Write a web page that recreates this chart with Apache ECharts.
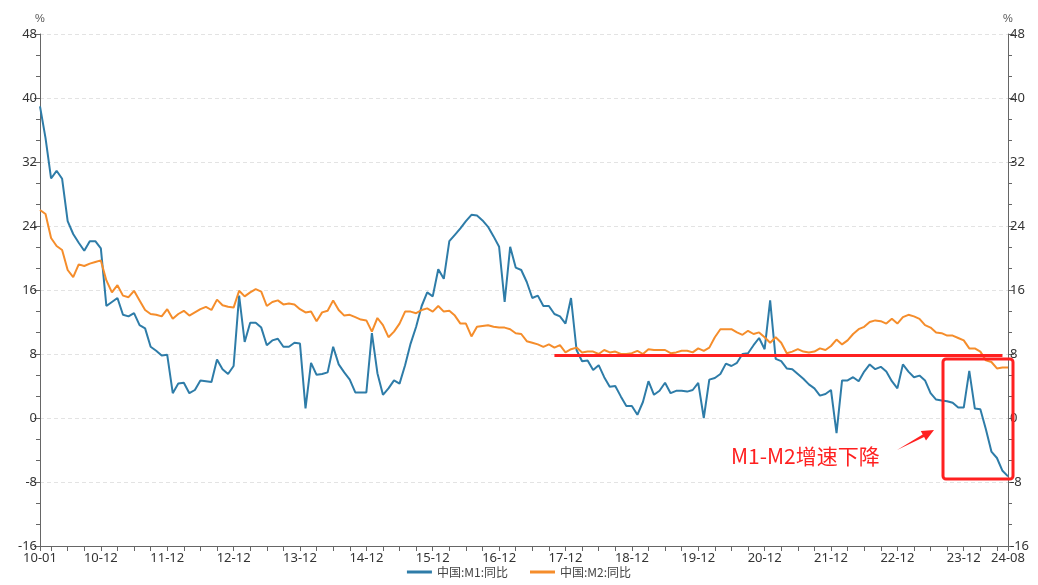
<!DOCTYPE html>
<html>
<head>
<meta charset="utf-8">
<title>M1 M2</title>
<script src="https://cdn.jsdelivr.net/npm/echarts@6/dist/echarts.min.js"></script>
<style>
    html, body { margin: 0; padding: 0; background: #fff; }
    #chart1 { width: 1038px; height: 585px; }
</style>
</head>
<body>
<div id="chart1"></div>
<script>
// 月份 2010-01 ~ 2024-08
var startYear = 2010, endYear = 2024, endMonth = 8;
var months = [];
for (var y = startYear; y <= endYear; y++) {
    for (var m = 1; m <= 12; m++) {
        if (y === endYear && m > endMonth) break;
        months.push(String(y).slice(2) + '-' + (m < 10 ? '0' + m : m));
    }
}

// 中国:M1:同比 (%)
var m1 = [
    38.96, 34.99, 29.94, 30.9, 29.9, 24.6, 23.0, 21.9, 20.9, 22.1, 22.1, 21.2,   // 2010
    14.0, 14.5, 15.0, 12.9, 12.7, 13.1, 11.6, 11.2, 8.9, 8.4, 7.8, 7.9,          // 2011
    3.1, 4.3, 4.4, 3.1, 3.5, 4.7, 4.6, 4.5, 7.3, 6.1, 5.5, 6.5,                   // 2012
    15.3, 9.5, 11.9, 11.9, 11.3, 9.1, 9.7, 9.9, 8.9, 8.9, 9.4, 9.3,              // 2013
    1.2, 6.9, 5.4, 5.5, 5.7, 8.9, 6.7, 5.7, 4.8, 3.2, 3.2, 3.2,                   // 2014
    10.6, 5.6, 2.9, 3.7, 4.7, 4.3, 6.6, 9.3, 11.4, 14.0, 15.7, 15.2,             // 2015
    18.6, 17.4, 22.1, 22.9, 23.7, 24.6, 25.4, 25.3, 24.7, 23.9, 22.7, 21.4,      // 2016
    14.5, 21.4, 18.8, 18.5, 17.0, 15.0, 15.3, 14.0, 14.0, 13.0, 12.7, 11.8,      // 2017
    15.0, 8.5, 7.1, 7.2, 6.0, 6.6, 5.1, 3.9, 4.0, 2.7, 1.5, 1.5,                 // 2018
    0.4, 2.0, 4.6, 2.9, 3.4, 4.4, 3.1, 3.4, 3.4, 3.3, 3.5, 4.4,                  // 2019
    0.0, 4.8, 5.0, 5.5, 6.8, 6.5, 6.9, 8.0, 8.1, 9.1, 10.0, 8.6,                 // 2020
    14.7, 7.4, 7.1, 6.2, 6.1, 5.5, 4.9, 4.2, 3.7, 2.8, 3.0, 3.5,                 // 2021
    -1.9, 4.7, 4.7, 5.1, 4.6, 5.8, 6.7, 6.1, 6.4, 5.8, 4.6, 3.7,                 // 2022
    6.7, 5.8, 5.1, 5.3, 4.7, 3.1, 2.3, 2.2, 2.1, 1.9, 1.3, 1.3,                  // 2023
    5.9, 1.2, 1.1, -1.4, -4.2, -5.0, -6.6, -7.3                                  // 2024
];

// 中国:M2:同比 (%)
var m2 = [
    26.0, 25.5, 22.5, 21.5, 21.0, 18.5, 17.6, 19.2, 19.0, 19.3, 19.5, 19.7,      // 2010
    17.2, 15.7, 16.6, 15.3, 15.1, 15.9, 14.7, 13.5, 13.0, 12.9, 12.7, 13.6,      // 2011
    12.4, 13.0, 13.4, 12.8, 13.2, 13.6, 13.9, 13.5, 14.8, 14.1, 13.9, 13.8,      // 2012
    15.9, 15.2, 15.7, 16.1, 15.8, 14.0, 14.5, 14.7, 14.2, 14.3, 14.2, 13.6,      // 2013
    13.2, 13.3, 12.1, 13.2, 13.4, 14.7, 13.5, 12.8, 12.9, 12.6, 12.3, 12.2,      // 2014
    10.8, 12.5, 11.6, 10.1, 10.8, 11.8, 13.3, 13.3, 13.1, 13.5, 13.7, 13.3,      // 2015
    14.0, 13.3, 13.4, 12.8, 11.8, 11.8, 10.2, 11.4, 11.5, 11.6, 11.4, 11.3,      // 2016
    11.3, 11.1, 10.6, 10.5, 9.6, 9.4, 9.2, 8.9, 9.2, 8.8, 9.1, 8.2,              // 2017
    8.6, 8.8, 8.2, 8.3, 8.3, 8.0, 8.5, 8.2, 8.3, 8.0, 8.0, 8.1,                  // 2018
    8.4, 8.0, 8.6, 8.5, 8.5, 8.5, 8.1, 8.2, 8.4, 8.4, 8.2, 8.7,                  // 2019
    8.4, 8.8, 10.1, 11.1, 11.1, 11.1, 10.7, 10.4, 10.9, 10.5, 10.7, 10.1,        // 2020
    9.4, 10.1, 9.4, 8.1, 8.3, 8.6, 8.3, 8.2, 8.3, 8.7, 8.5, 9.0,                 // 2021
    9.8, 9.2, 9.7, 10.5, 11.1, 11.4, 12.0, 12.2, 12.1, 11.8, 12.4, 11.8,         // 2022
    12.6, 12.9, 12.7, 12.4, 11.6, 11.3, 10.7, 10.6, 10.3, 10.3, 10.0, 9.7,       // 2023
    8.7, 8.7, 8.3, 7.2, 7.0, 6.2, 6.3, 6.3                                       // 2024
];

var yTicks = { min: -16, max: 48, interval: 8 };
var seriesNames = ['中国:M1:同比', '中国:M2:同比'];
var colors = ['#2e7ca8', '#f58d2b'];

// 标注线 (M2 8% 附近)
var refLine = { from: '17-10', to: '24-07', value: 7.9 };

var chart1 = echarts.init(document.getElementById('chart1'));

function isLabelMonth(index, value) {
    return index === 0 || index === months.length - 1 || value.slice(3) === '12';
}
function isTickMonth(index, value) {
    var mm = +value.slice(3);
    return index === 0 || index === months.length - 1 || mm % 3 === 0;
}

function yAxisOf(pos) {
    return {
        type: 'value',
        position: pos,
        min: yTicks.min,
        max: yTicks.max,
        interval: yTicks.interval,
        name: '%',
        nameGap: 10,
        nameTextStyle: { color: '#555', fontSize: 11 },
        axisLine: { show: true, lineStyle: { color: '#666' } },
        axisTick: { show: true, length: 6, lineStyle: { color: '#666' } },
        minorTick: { show: true, splitNumber: 3, length: 4, lineStyle: { color: '#666' } },
        axisLabel: { color: '#333', fontSize: 13, margin: pos === 'left' ? 3 : 2, fontFamily: 'Noto Sans' },
        splitLine: {
            show: pos === 'left',
            lineStyle: { color: '#e3e3e3', type: [4, 3] }
        }
    };
}

var option = {
    animation: false,
    backgroundColor: '#fff',
    color: colors,
    grid: { left: 40, right: 30, top: 34, bottom: 39, containLabel: false },
    legend: {
        bottom: 2,
        icon: 'rect',
        itemWidth: 25,
        itemHeight: 3,
        itemGap: 22,
        textStyle: { color: '#444', fontSize: 12, fontFamily: 'Noto Sans CJK SC' },
        data: seriesNames
    },
    xAxis: {
        type: 'category',
        boundaryGap: false,
        data: months,
        axisLine: { onZero: false, lineStyle: { color: '#666' } },
        axisTick: { show: true, length: 5, interval: isTickMonth, lineStyle: { color: '#666' } },
        axisLabel: {
            interval: isLabelMonth,
            color: '#333',
            fontSize: 13,
            margin: 6,
            fontFamily: 'Noto Sans',
            hideOverlap: false
        },
        splitLine: { show: false }
    },
    yAxis: [yAxisOf('left'), yAxisOf('right')],
    series: [{
        name: seriesNames[0],
        type: 'line',
        data: m1,
        symbol: 'none',
        lineStyle: { width: 2, color: colors[0] }
    }, {
        name: seriesNames[1],
        type: 'line',
        data: m2,
        symbol: 'none',
        lineStyle: { width: 2, color: colors[1] },
        markLine: {
            silent: true,
            symbol: 'none',
            label: { show: false },
            lineStyle: { color: '#ff2020', width: 3, type: 'solid' },
            data: [[{ coord: [refLine.from, refLine.value] }, { coord: [refLine.to, refLine.value] }]]
        }
    }],
    graphic: [{
        type: 'rect',
        shape: { x: 943, y: 359, width: 70, height: 120, r: 3 },
        style: { fill: 'none', stroke: '#ff2020', lineWidth: 3 },
        z: 100
    }, {
        type: 'polygon',
        shape: {
            points: [[897, 450], [924.1, 437.0], [926.0, 440.5], [934, 430], [920.8, 430.9], [922.7, 434.4]]
        },
        style: { fill: '#ff2020' },
        z: 100
    }, {
        type: 'text',
        x: 731,
        y: 456,
        style: {
            text: 'M1-M2增速下降',
            fill: '#ff2020',
            fontSize: 21,
            fontFamily: 'Noto Sans CJK SC',
            verticalAlign: 'middle'
        },
        z: 100
    }]
};
chart1.setOption(option, true);
</script>
</body>
</html>
